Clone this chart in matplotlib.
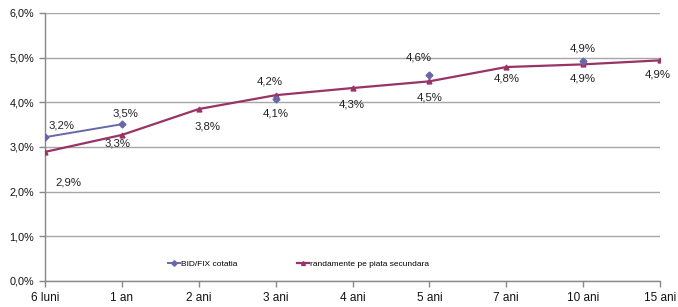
import numpy as np
import matplotlib
matplotlib.use("Agg")
import matplotlib.pyplot as plt
from matplotlib.ticker import FuncFormatter

categories = ["6 luni", "1 an", "2 ani", "3 ani", "4 ani", "5 ani", "7 ani", "10 ani", "15 ani"]
bid_fix = [3.22, 3.51, np.nan, 4.07, np.nan, 4.61, np.nan, 4.92, np.nan]
bid_labels = ["3,2%", "3,5%", None, "4,1%", None, "4,6%", None, "4,9%", None]
secundara = [2.89, 3.27, 3.85, 4.16, 4.32, 4.47, 4.79, 4.85, 4.94]
sec_labels = ["2,9%", "3,3%", "3,8%", "4,2%", "4,3%", "4,5%", "4,8%", "4,9%", "4,9%"]
yticks = [0, 1, 2, 3, 4, 5, 6]

# label offsets in pixels (dx, dy)
bid_off = [(17, 12), (4, 11), None, (0, -14), None, (-11, 18), None, (0, 13), None]
sec_off = [(23, -31), (-4, -9), (9, -17), (-6, 14), (-1, -16), (0, -16), (0, -11), (0, -14), (-2, -14)]

plt.rcParams['font.family'] = ['Liberation Sans', 'DejaVu Sans']

W, H = 678, 307
fig = plt.figure(figsize=(W / 100, H / 100), dpi=100)
ax = fig.add_axes([45 / W, 1 - 281 / H, (660 - 45) / W, (281 - 13) / H])

x = np.arange(len(categories))
c_bid = "#6868A8"
c_sec = "#993366"

ax.plot(x, bid_fix, color=c_bid, lw=1.4, marker="D", ms=3.5, label="BID/FIX cotatia", zorder=4)
ax.plot(x, secundara, color=c_sec, lw=1.6, marker="^", ms=3.5, label="randamente pe piata secundara", zorder=3)

for i in range(len(categories)):
    if bid_labels[i] is not None:
        ax.annotate(bid_labels[i], (x[i], bid_fix[i]), xytext=bid_off[i], textcoords="offset pixels",
                    ha="center", va="center", fontsize=8.2, color="#222222")
    ax.annotate(sec_labels[i], (x[i], secundara[i]), xytext=sec_off[i], textcoords="offset pixels",
                ha="center", va="center", fontsize=8.2, color="#222222")

ax.set_xlim(0, len(categories) - 1)
ax.set_ylim(0, 6)
ax.set_yticks(yticks)
ax.yaxis.set_major_formatter(FuncFormatter(lambda v, p: f"{v:.1f}%".replace(".", ",")))
ax.set_xticks(x)
ax.set_xticklabels(categories)
ax.grid(axis="y", color="#A6A6A6", lw=1.0)
ax.set_axisbelow(True)
for s in ["top", "right"]:
    ax.spines[s].set_visible(False)
for s in ["left", "bottom"]:
    ax.spines[s].set_color("#888888")
    ax.spines[s].set_linewidth(1.0)
ax.tick_params(axis="both", colors="#888888", labelcolor="#111111", length=4, width=1)
ax.tick_params(axis="y", labelsize=7.8, pad=4)
ax.tick_params(axis="x", labelsize=8.5, pad=4)

ax.legend(loc="lower center", bbox_to_anchor=(0.412, 0.02), ncol=2, frameon=False, fontsize=6,
          handlelength=1.4, handletextpad=0.1, columnspacing=7.2, markerscale=0.8)

fig.savefig("out.png", dpi=100)
